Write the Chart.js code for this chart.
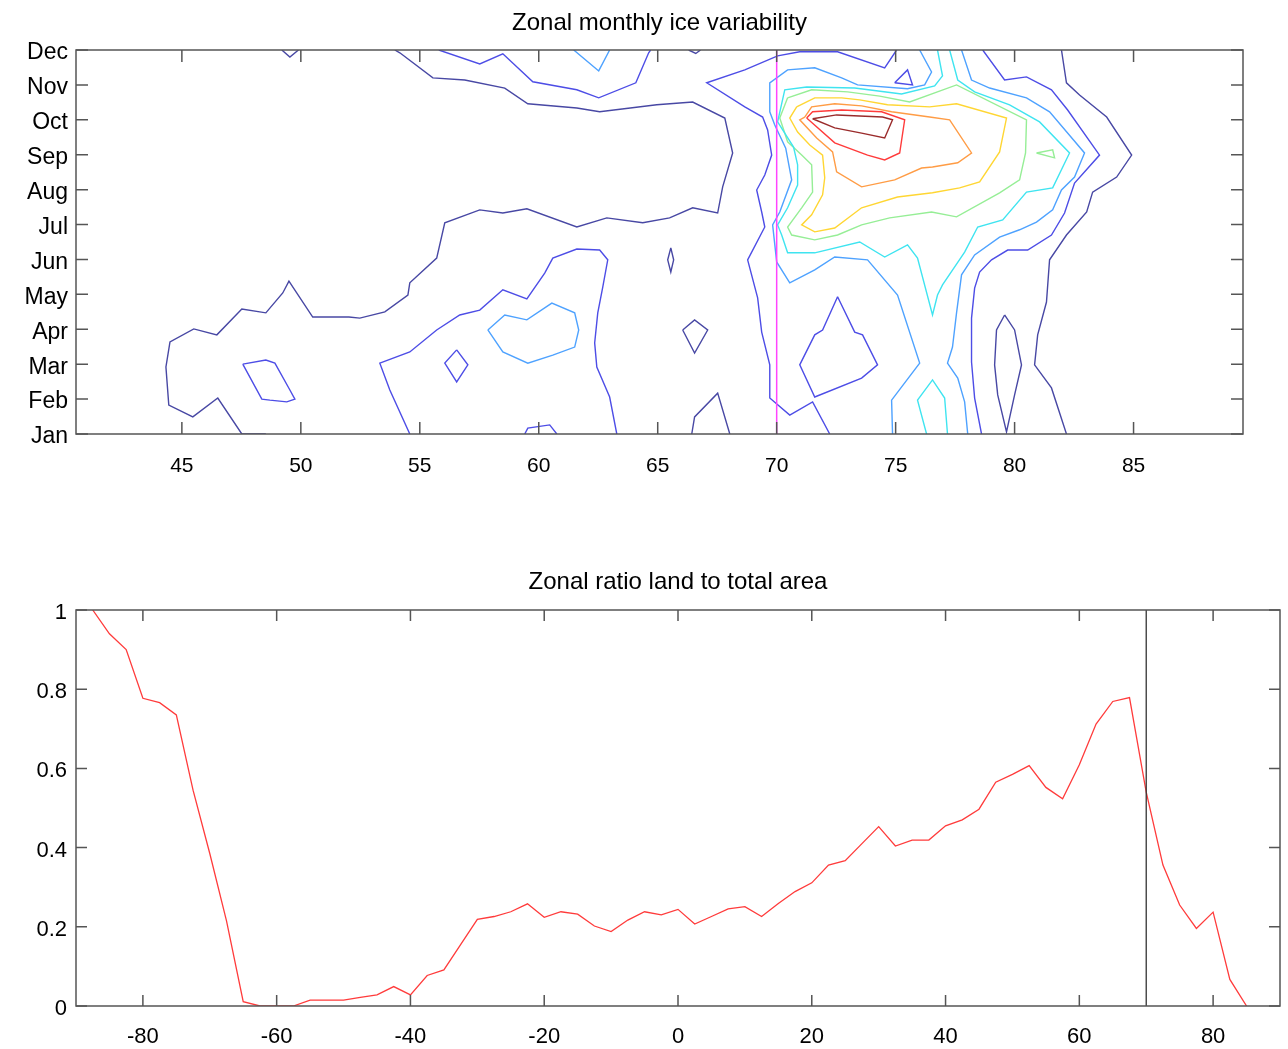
<!DOCTYPE html>
<html>
<head>
<meta charset="utf-8">
<title>Zonal ice variability</title>
<script src="https://cdn.jsdelivr.net/npm/chart.js@4.4.1/dist/chart.umd.min.js"></script>
<style>
  html, body { margin: 0; padding: 0; background: #fff; }
  #wrap { position: relative; width: 1288px; height: 1049px; font-family: 'Liberation Sans', Arial, Helvetica, sans-serif; color: #000; }
  #iceBox { position: absolute; left: 0; top: 0; width: 1288px; height: 500px; }
  #landBox { position: absolute; left: 0; top: 540px; width: 1288px; height: 509px; }
  .ttl { position: absolute; text-align: center; font-size: 24px; line-height: 28px; white-space: nowrap; }
  #iceTitle { left: 76px; width: 1167px; top: 8px; }
  #landTitle { left: 76px; width: 1204px; top: 567px; }
</style>
</head>
<body>
<div id="wrap">
  <div id="iceBox"><canvas id="iceChart"></canvas></div>
  <div id="landBox"><canvas id="landChart"></canvas></div>
  <div class="ttl" id="iceTitle">Zonal monthly ice variability</div>
  <div class="ttl" id="landTitle">Zonal ratio land to total area</div>
</div>
<script>
// --- data: top panel (contours as [latitude, month] pairs) ---
const monthNames = ['Jan','Feb','Mar','Apr','May','Jun','Jul','Aug','Sep','Oct','Nov','Dec'];
const monthTicks = [1,2,3,4,5,6,7,8,9,10,11,12];
const latTicks = [45,50,55,60,65,70,75,80,85];
const markLat = 70;

// contour level colours, lowest to highest
const levelColors = ['#4848a4','#4d4de6','#4ea2ff','#3fe4f0','#96ee96','#ffd633','#ff9c45','#ff3b3b','#9a2b2b'];

// level 1
const c1West = [[48.53,1.0],[47.52,1.0],[46.51,2.03],[45.46,1.49],[44.45,1.83],[44.33,2.92],[44.5,3.64],[45.5,4.01],[46.47,3.84],[47.52,4.58],[48.53,4.47],[49.24,5.04],[49.5,5.38],[50.5,4.35],[52.02,4.35],[52.48,4.32],[53.53,4.5],[54.5,4.98],[54.58,5.33],[55.71,6.04],[56.05,7.05],[57.52,7.42],[58.49,7.33],[59.5,7.45],[61.6,6.93],[62.86,7.19],[64.37,7.05],[65.5,7.19],[66.47,7.48],[67.52,7.33],[67.73,8.08],[68.15,9.05],[67.82,10.05],[66.47,10.51],[64.96,10.43],[62.56,10.23],[61.6,10.34],[59.54,10.46],[58.57,10.91],[56.89,11.14],[55.55,11.2],[54.16,11.92],[53.95,12.0]];
const c1Nub = [[49.2,12.0],[49.54,11.8],[49.9,12.0]];
const c1TopNub = [[66.3,12.0],[66.6,11.9],[66.8,12.0]];
const c1South = [[66.43,1.0],[66.55,1.49],[67.52,2.17],[68.03,1.0]];
const c1Spot = [[65.55,6.33],[65.67,5.99],[65.55,5.64],[65.42,5.99],[65.55,6.33]];
const c1Kite = [[66.05,3.98],[66.55,4.27],[67.1,3.98],[66.55,3.32],[66.05,3.98]];
const c1East = [[81.97,12.0],[82.18,11.06],[82.73,10.71],[83.87,10.08],[84.92,8.99],[84.29,8.36],[83.28,7.93],[83.03,7.36],[82.18,6.7],[81.47,5.99],[81.34,4.78],[80.97,3.84],[80.84,2.98],[81.55,2.32],[82.18,1.0]];
const c1Lens = [[79.58,4.41],[80.0,3.98],[80.29,2.98],[80.0,2.12],[79.66,1.06],[79.29,2.12],[79.16,2.98],[79.24,3.98],[79.58,4.41]];

// level 2
const c2Loop = [[47.56,3.0],[48.53,3.12],[48.91,3.03],[49.54,2.26],[49.75,2.0],[49.41,1.92],[48.7,1.97],[48.36,2.0],[47.56,3.0]];
const c2North = [[55.8,12.0],[57.52,11.6],[58.49,11.89],[59.75,11.09],[61.6,10.86],[62.52,10.63],[64.08,11.06],[64.62,11.92],[64.7,12.0]];
const c2Mid = [[54.58,1.0],[53.74,2.26],[53.32,3.03],[54.58,3.35],[55.71,3.98],[56.68,4.41],[57.52,4.55],[58.49,5.13],[59.5,4.87],[60.25,5.61],[60.59,6.04],[61.6,6.3],[62.56,6.27],[62.9,5.99],[62.69,5.21],[62.48,4.47],[62.35,3.61],[62.44,2.92],[62.98,2.06],[63.28,1.0]];
const c2Diamond = [[56.55,3.41],[57.02,2.98],[56.55,2.49],[56.05,3.03],[56.55,3.41]];
const c2Bump = [[59.41,1.0],[59.54,1.17],[60.46,1.26],[60.76,1.0]];
const c2West = [[75.04,12.0],[74.54,11.49],[72.56,11.95],[70.97,11.95],[70.04,11.83],[68.66,11.43],[67.06,11.06],[68.66,10.37],[69.41,10.08],[69.62,9.71],[69.79,8.99],[69.5,8.42],[69.16,7.99],[69.37,7.36],[69.5,6.93],[68.78,5.99],[69.2,4.9],[69.37,3.92],[69.71,2.98],[69.71,2.03],[70.55,1.54],[71.51,1.92],[72.23,1.0]];
const c2East = [[78.66,12.0],[79.58,11.14],[80.5,11.23],[81.55,10.86],[82.23,10.28],[83.57,8.99],[82.52,8.19],[82.1,7.33],[81.55,6.7],[80.55,6.27],[79.71,6.27],[79.03,5.99],[78.53,5.64],[78.32,5.18],[78.19,4.32],[78.19,3.06],[78.32,2.03],[78.61,1.0]];
const c2Tri = [[72.56,4.93],[73.28,3.92],[73.61,3.84],[74.24,2.98],[73.57,2.6],[71.6,2.06],[70.97,2.98],[71.6,3.84],[71.93,3.98],[72.56,4.93]];
const c2Tiny = [[74.96,11.06],[75.5,11.43],[75.71,11.0],[74.96,11.06]];

// level 3
const c3North = [[61.47,12.0],[62.52,11.4],[62.98,12.0]];
const c3Loop = [[57.86,3.98],[58.57,4.41],[59.5,4.27],[60.55,4.75],[61.51,4.47],[61.68,3.98],[61.51,3.49],[60.59,3.26],[59.54,3.03],[58.49,3.35],[57.86,3.98]];
const c3West = [[74.87,1.0],[74.83,1.97],[76.01,3.03],[75.08,4.98],[73.82,5.99],[72.44,6.07],[71.6,5.7],[70.55,5.33],[70.0,5.93],[69.83,6.99],[70.13,7.36],[70.63,8.28],[70.38,9.19],[69.92,9.85],[69.71,10.23],[69.71,11.06],[70.46,11.43],[71.6,11.49],[72.73,11.2],[73.4,11.0],[75.5,10.89],[76.22,11.0],[76.51,11.37],[76.01,12.0]];
const c3East = [[77.77,12.0],[78.19,11.14],[78.95,10.91],[80.5,10.63],[81.47,10.23],[82.94,9.05],[82.52,8.36],[81.97,7.99],[81.6,7.42],[80.92,7.07],[80.21,6.85],[79.37,6.64],[78.32,6.13],[77.77,5.56],[77.56,4.47],[77.39,3.49],[77.18,3.03],[77.61,2.6],[77.9,1.92],[78.03,1.0]];

// level 4
const c4Main = [[77.27,12.0],[77.61,11.14],[78.32,10.8],[79.79,10.43],[81.05,9.94],[82.31,9.05],[81.6,8.05],[80.5,7.93],[79.5,7.13],[78.45,6.93],[77.9,6.21],[76.97,5.27],[76.76,4.98],[76.55,4.41],[75.92,6.04],[75.5,6.42],[74.54,6.07],[73.49,6.5],[71.6,6.19],[70.46,6.19],[70.21,6.7],[70.04,6.99],[70.46,7.48],[70.88,8.13],[70.88,8.71],[70.71,9.22],[70.04,9.94],[70.34,10.86],[71.26,10.94],[73.28,10.91],[75.25,10.74],[76.64,10.97],[76.97,11.26],[76.76,12.0]];
const c4South = [[76.3,1.0],[75.92,1.97],[76.55,2.55],[77.06,2.03],[77.18,1.0]];

// levels 5 to 9
const c5Loop = [[70.46,10.63],[71.47,10.86],[72.98,10.8],[74.33,10.68],[75.59,10.51],[77.56,11.0],[80.5,10.0],[80.46,9.05],[80.21,8.28],[79.37,7.91],[77.56,7.22],[76.51,7.36],[74.75,7.19],[73.57,6.99],[72.56,6.7],[71.6,6.56],[70.63,6.7],[70.46,6.93],[71.05,7.48],[71.51,7.93],[71.47,8.71],[71.05,8.99],[70.46,9.37],[70.13,10.05],[70.46,10.63]];
const c5Speck = [[80.92,9.05],[81.6,9.14],[81.68,8.91],[80.92,9.05]];
const c6Loop = [[70.84,10.37],[71.6,10.63],[72.73,10.63],[73.49,10.57],[74.66,10.43],[76.43,10.37],[77.56,10.46],[79.66,10.05],[79.37,9.08],[78.53,8.22],[77.69,8.05],[76.55,7.91],[75.08,7.79],[73.57,7.48],[72.44,6.9],[71.6,6.79],[71.05,6.99],[71.47,7.28],[71.93,7.85],[72.02,8.34],[71.93,8.99],[71.39,9.28],[70.88,9.65],[70.55,10.05],[70.84,10.37]];
const c7Loop = [[71.18,10.08],[71.47,10.37],[72.44,10.46],[73.57,10.4],[74.83,10.23],[76.43,10.08],[77.27,10.0],[78.19,9.05],[77.61,8.77],[76.55,8.65],[76.09,8.62],[74.96,8.28],[73.57,8.08],[72.52,8.51],[72.35,9.08],[71.68,9.48],[70.97,10.0],[71.18,10.08]];
const c8Loop = [[71.26,10.05],[71.51,10.23],[72.73,10.28],[74.41,10.23],[75.38,10.0],[75.17,9.05],[74.54,8.85],[73.82,8.99],[72.44,9.34],[71.26,10.05]];
const c9Loop = [[71.51,10.03],[72.52,10.14],[74.45,10.08],[74.87,10.0],[74.54,9.48],[73.57,9.62],[72.44,9.77],[71.51,10.03]];

// --- data: bottom panel ---
const zoneLat = [-87.5,-85,-82.5,-80,-77.5,-75,-72.5,-70,-67.5,-65,-62.5,-60,-57.5,-55,-52.5,-50,-47.5,-45,-42.5,-40,-37.5,-35,-32.5,-30,-27.5,-25,-22.5,-20,-17.5,-15,-12.5,-10,-7.5,-5,-2.5,0,2.5,5,7.5,10,12.5,15,17.5,20,22.5,25,27.5,30,32.5,35,37.5,40,42.5,45,47.5,50,52.5,55,57.5,60,62.5,65,67.5,70,72.5,75,77.5,80,82.5,85];
const landRatio = [1.0,0.94,0.90,0.777,0.766,0.735,0.545,0.385,0.215,0.011,0.0,0.0,0.0,0.015,0.015,0.015,0.022,0.028,0.049,0.028,0.077,0.091,0.155,0.219,0.226,0.238,0.258,0.224,0.238,0.232,0.202,0.188,0.217,0.238,0.23,0.244,0.207,0.226,0.245,0.251,0.226,0.259,0.289,0.311,0.356,0.367,0.41,0.453,0.404,0.419,0.419,0.455,0.47,0.497,0.565,0.585,0.607,0.552,0.523,0.609,0.712,0.769,0.779,0.54,0.356,0.255,0.196,0.237,0.067,0.0];
const globeTicks = [-80,-60,-40,-20,0,20,40,60,80];
const ratioTicks = [0,0.2,0.4,0.6,0.8,1];

const FONT = "'Liberation Sans', Arial, Helvetica, sans-serif";
const INK = '#000';

// box round the plot with inward ticks on all four sides
const framePlugin = {
  id: 'frame',
  afterDatasetsDraw(chart, args, opts) {
    const { ctx, chartArea: a, scales: { x, y } } = chart;
    const len = opts.tickLen || 12;
    ctx.save();
    ctx.strokeStyle = '#555';
    ctx.lineWidth = 1.5;
    ctx.beginPath();
    x.ticks.forEach(t => {
      const px = x.getPixelForValue(t.value);
      ctx.moveTo(px, a.bottom); ctx.lineTo(px, a.bottom - len);
      ctx.moveTo(px, a.top); ctx.lineTo(px, a.top + len);
    });
    y.ticks.forEach(t => {
      const py = y.getPixelForValue(t.value);
      ctx.moveTo(a.left, py); ctx.lineTo(a.left + len, py);
      ctx.moveTo(a.right, py); ctx.lineTo(a.right - len, py);
    });
    ctx.stroke();
    ctx.strokeRect(a.left, a.top, a.right - a.left, a.bottom - a.top);
    ctx.restore();
  }
};

const toXY = pts => pts.map(p => ({ x: p[0], y: p[1] }));

const iceContours = [
  [c1West, 0], [c1Nub, 0], [c1TopNub, 0], [c1South, 0], [c1Spot, 0], [c1Kite, 0], [c1East, 0], [c1Lens, 0],
  [c2Loop, 1], [c2North, 1], [c2Mid, 1], [c2Diamond, 1], [c2Bump, 1], [c2West, 1], [c2East, 1], [c2Tri, 1], [c2Tiny, 1],
  [c3North, 2], [c3Loop, 2], [c3West, 2], [c3East, 2],
  [c4Main, 3], [c4South, 3],
  [c5Loop, 4], [c5Speck, 4], [c6Loop, 5], [c7Loop, 6], [c8Loop, 7], [c9Loop, 8]
];

const lineStyle = { pointRadius: 0, borderWidth: 1.4, tension: 0, fill: false };

const iceSets = [
  { ...lineStyle, data: toXY([[markLat, 1], [markLat, 12]]), borderColor: '#ff44ff', borderWidth: 1.5 }
].concat(iceContours.map(([pts, lvl]) => ({ ...lineStyle, data: toXY(pts), borderColor: levelColors[lvl] })));

new Chart(document.getElementById('iceChart'), {
  type: 'line',
  data: { datasets: iceSets },
  plugins: [framePlugin],
  options: {
    responsive: true, maintainAspectRatio: false, animation: false, devicePixelRatio: 1,
    layout: { padding: { left: 0, right: 45, top: 50, bottom: 0 } },
    plugins: {
      legend: { display: false }, tooltip: { enabled: false }, title: { display: false },
      frame: { tickLen: 12 }
    },
    scales: {
      x: {
        type: 'linear', min: 40.55, max: 89.6,
        afterBuildTicks: s => { s.ticks = latTicks.map(v => ({ value: v })); },
        afterFit: s => { s.height = 66; },
        grid: { display: false }, border: { display: false },
        ticks: { color: INK, font: { family: FONT, size: 21 }, padding: 12, maxRotation: 0 }
      },
      y: {
        type: 'linear', min: 1, max: 12,
        afterBuildTicks: s => { s.ticks = monthTicks.map(v => ({ value: v })); },
        afterFit: s => { s.width = 76; },
        grid: { display: false }, border: { display: false },
        ticks: { color: INK, font: { family: FONT, size: 23 }, padding: 0, labelOffset: 3,
                 callback: v => monthNames[v - 1] }
      }
    }
  }
});

new Chart(document.getElementById('landChart'), {
  type: 'line',
  data: {
    datasets: [
      { ...lineStyle, data: toXY([[markLat, 0], [markLat, 1]]), borderColor: '#333', borderWidth: 1.3 },
      { ...lineStyle, data: zoneLat.map((v, i) => ({ x: v, y: landRatio[i] })), borderColor: '#ff3b3b', borderWidth: 1.3 }
    ]
  },
  plugins: [framePlugin],
  options: {
    responsive: true, maintainAspectRatio: false, animation: false, devicePixelRatio: 1,
    layout: { padding: { left: 0, right: 8, top: 70, bottom: 0 } },
    plugins: {
      legend: { display: false }, tooltip: { enabled: false }, title: { display: false },
      frame: { tickLen: 11 }
    },
    scales: {
      x: {
        type: 'linear', min: -90, max: 90,
        afterBuildTicks: s => { s.ticks = globeTicks.map(v => ({ value: v })); },
        afterFit: s => { s.height = 43; },
        grid: { display: false }, border: { display: false },
        ticks: { color: INK, font: { family: FONT, size: 22 }, padding: 10, maxRotation: 0 }
      },
      y: {
        type: 'linear', min: 0, max: 1,
        afterBuildTicks: s => { s.ticks = ratioTicks.map(v => ({ value: v })); },
        afterFit: s => { s.width = 76; },
        grid: { display: false }, border: { display: false },
        ticks: { color: INK, font: { family: FONT, size: 22 }, padding: 1, labelOffset: 3,
                 callback: v => String(+v.toFixed(1)) }
      }
    }
  }
});
</script>
</body>
</html>
